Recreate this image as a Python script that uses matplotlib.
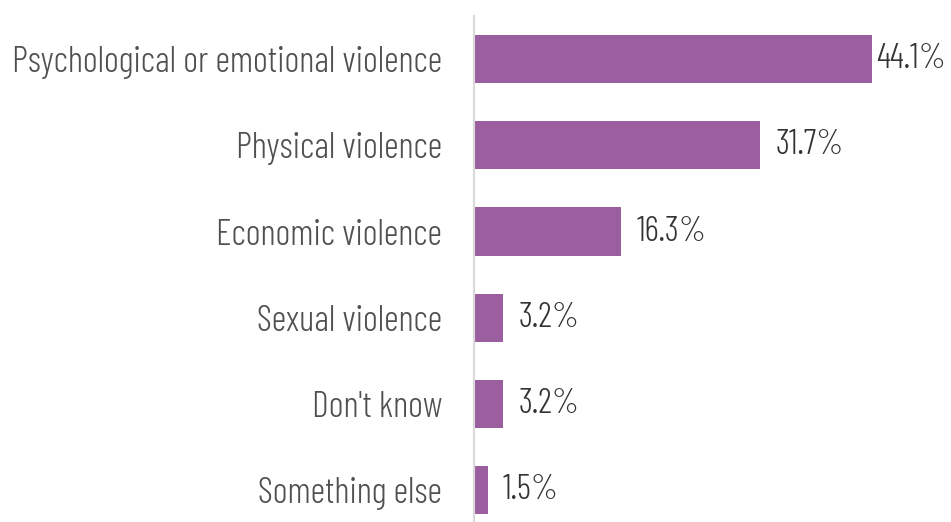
import matplotlib
matplotlib.use("Agg")
import matplotlib.pyplot as plt

categories = [
    "Psychological or emotional violence",
    "Physical violence",
    "Economic violence",
    "Sexual violence",
    "Don't know",
    "Something else",
]
values = [44.1, 31.7, 16.3, 3.2, 3.2, 1.5]
value_labels = ["44.1%", "31.7%", "16.3%", "3.2%", "3.2%", "1.5%"]

plt.rcParams["font.family"] = ["Barlow Condensed", "DejaVu Sans"]
plt.rcParams["font.weight"] = 300

W, H = 951, 522
fig = plt.figure(figsize=(W / 100, H / 100), dpi=100)
ax = fig.add_axes([474 / W, 0, 1 - 474 / W, 1 - 16 / H])

y = list(range(len(categories)))
ax.barh(y, values, height=0.56, color="#9b5fa0")
ax.set_ylim(5.37, -0.5)
xmax = (W - 474) / 9.02
ax.set_xlim(0, xmax)

for s in ["top", "right", "bottom"]:
    ax.spines[s].set_visible(False)
ax.spines["left"].set_color("#d9d9d9")
ax.spines["left"].set_linewidth(1.5)
ax.set_xticks([])
ax.set_yticks(y)
ax.set_yticklabels(categories, fontsize=26, color="#505050")
ax.tick_params(axis="y", length=0, pad=23)

# value labels sit just past each bar; the longest bar gets a tighter gap so it fits
for yi, v, lab in zip(y, values, value_labels):
    gap = 3 if v > 0.75 * xmax else 11
    ax.annotate(lab, (v, yi), xytext=(gap, 0), textcoords="offset points",
                va="center", ha="left", fontsize=25, color="#333333")

fig.savefig("out.png", dpi=100)
